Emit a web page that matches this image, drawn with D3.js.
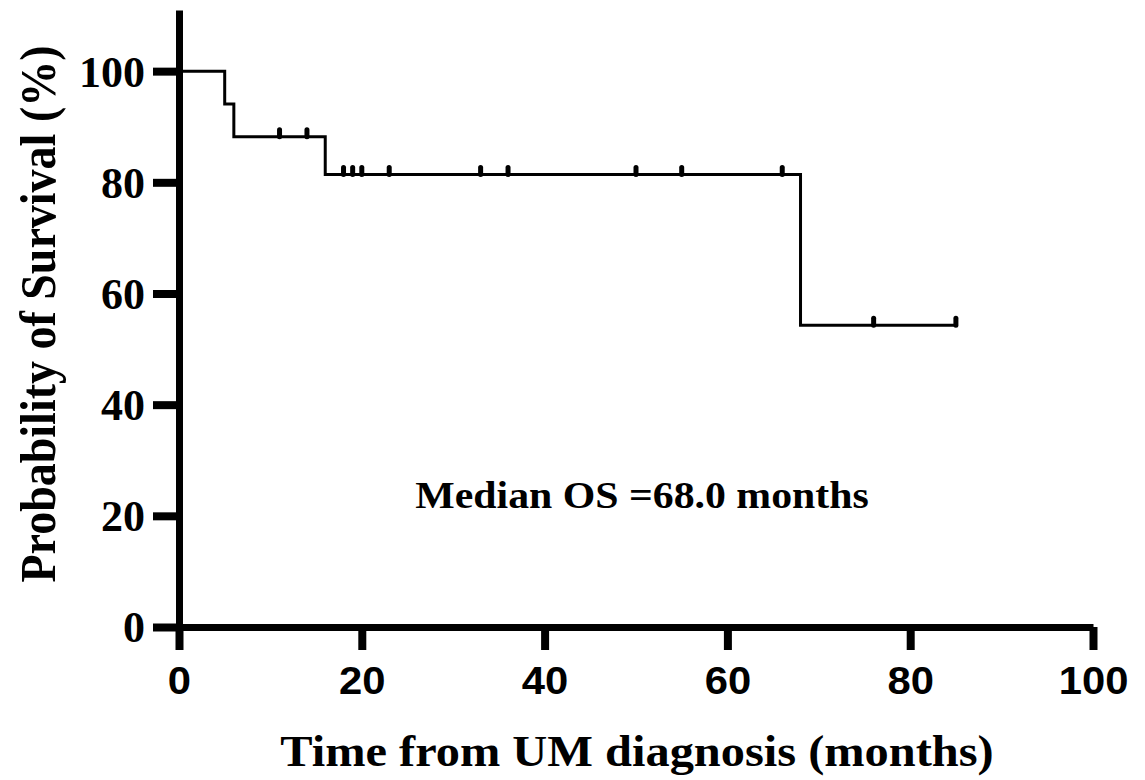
<!DOCTYPE html>
<html>
<head>
<meta charset="utf-8">
<style>
body { margin: 0; background: #fff; }
svg { display: block; }
.ytick text { font-family: 'Liberation Serif', 'Times New Roman', serif; font-weight: bold; }
.xtick text { font-family: 'Liberation Sans', Arial, sans-serif; font-weight: bold; }
.title { font-family: 'Liberation Serif', 'Times New Roman', serif; font-weight: bold; fill: #000; }
</style>
</head>
<body>
<svg></svg>
<script src="https://cdn.jsdelivr.net/npm/d3@7"></script>
<script>

// Kaplan-Meier steps (months, % surviving)
const stepTimes = [0, 5, 6, 16, 68, 85];
const stepSurvival = [100, 94.1, 88.2, 81.4, 54.3, 54.3];

// censored patients
const censorTimes = [11, 14, 18, 19, 20, 23, 33, 36, 50, 55, 66, 76, 85];
const censorSurvival = [88.2, 88.2, 81.4, 81.4, 81.4, 81.4, 81.4, 81.4, 81.4, 81.4, 81.4, 54.3, 54.3];

const xTicks = [0, 20, 40, 60, 80, 100];
const yTicks = [0, 20, 40, 60, 80, 100];

const width = 1145;
const height = 780;
const stretch = 1.1; // the original is a bit wider than tall

const svg = d3.select('svg')
    .attr('width', width)
    .attr('height', height);

const x = d3.scaleLinear().domain([0, 100]).range([179, 1093]);
const y = d3.scaleLinear().domain([0, 111]).range([627, 10]);

// y axis
const yAxis = svg.append('g')
    .attr('class', 'ytick')
    .attr('transform', `translate(${x(0)},0)`)
    .call(d3.axisLeft(y).tickValues(yTicks).tickSize(26).tickSizeOuter(0).tickPadding(8));
yAxis.select('.domain').attr('stroke', '#000').attr('stroke-width', 7);
yAxis.selectAll('.tick line').attr('stroke', '#000').attr('stroke-width', 8);
yAxis.selectAll('.tick text').attr('font-size', 44).attr('fill', '#000').attr('dy', '0.34em');

// x axis
const xAxis = svg.append('g')
    .attr('class', 'xtick')
    .attr('transform', `translate(0,${y(0)})`)
    .call(d3.axisBottom(x).tickValues(xTicks).tickSize(23).tickSizeOuter(0).tickPadding(17));
xAxis.select('.domain').attr('stroke', '#000').attr('stroke-width', 7);
xAxis.selectAll('.tick line').attr('stroke', '#000').attr('stroke-width', 8);
xAxis.selectAll('.tick text')
    .attr('font-size', 38)
    .attr('fill', '#000')
    .attr('transform', `scale(${stretch},1)`);

// survival step curve
const steps = stepTimes.map((t, i) => [t, stepSurvival[i]]);
const line = d3.line()
    .x(d => x(d[0]))
    .y(d => y(d[1]))
    .curve(d3.curveStepAfter);

svg.append('path')
    .datum(steps)
    .attr('fill', 'none')
    .attr('stroke', '#000')
    .attr('stroke-width', 3)
    .attr('d', line);

// censor marks
svg.append('g')
    .selectAll('line')
    .data(censorTimes.map((t, i) => [t, censorSurvival[i]]))
    .join('line')
    .attr('x1', d => x(d[0]))
    .attr('x2', d => x(d[0]))
    .attr('y1', d => y(d[1]))
    .attr('y2', d => y(d[1]) - 7)
    .attr('stroke', '#000')
    .attr('stroke-width', 5)
    .attr('stroke-linecap', 'round');

// annotation
svg.append('text')
    .attr('class', 'title')
    .attr('transform', `translate(642,508) scale(${stretch},1)`)
    .attr('text-anchor', 'middle')
    .attr('font-size', 38)
    .text('Median OS =68.0 months');

// axis titles
svg.append('text')
    .attr('class', 'title')
    .attr('transform', `translate(637,766) scale(${stretch},1)`)
    .attr('text-anchor', 'middle')
    .attr('font-size', 44)
    .text('Time from UM diagnosis (months)');

svg.append('text')
    .attr('class', 'title')
    .attr('transform', `translate(55,314) scale(${stretch},1) rotate(-90)`)
    .attr('text-anchor', 'middle')
    .attr('font-size', 46)
    .text('Probability of Survival (%)');

</script>
</body>
</html>
